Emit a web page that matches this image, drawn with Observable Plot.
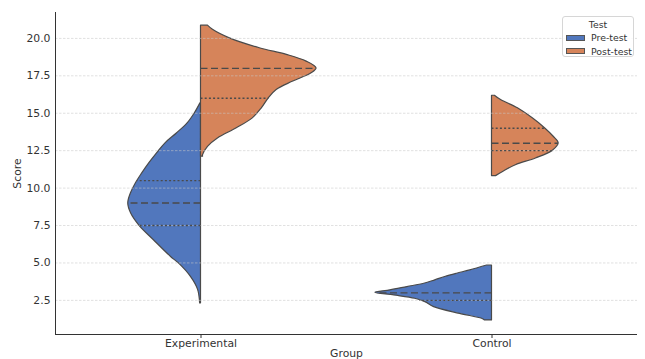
<!DOCTYPE html>
<html><head><meta charset="utf-8">
<script src="https://cdn.jsdelivr.net/npm/d3@7"></script>
<script src="https://cdn.jsdelivr.net/npm/@observablehq/plot@0.6"></script>
<style>
body{margin:0;background:#fff;}
#wrap{position:relative;width:645px;height:359px;font-family:"DejaVu Sans",sans-serif;}
.legend{position:absolute;left:562px;top:16px;width:72px;height:41px;border:1px solid #d6d6d6;border-radius:3px;background:rgba(255,255,255,0.85);font-size:9.4px;color:#333;box-sizing:border-box;}
.legend .t{position:absolute;left:0;width:100%;top:2px;text-align:center;line-height:11px;}
.legend .row{position:absolute;left:3px;height:11px;}
.legend .sw{position:absolute;left:0;top:2.5px;width:19px;height:6px;border:0.8px solid #555;box-sizing:border-box;}
.legend .lb{position:absolute;left:25px;top:0;line-height:11px;white-space:nowrap;}
</style>
</head><body><div id="wrap"></div>
<script>
const groups = ["Experimental", "Control"];
const tests = ["Pre-test", "Post-test"];
const colors = ["#5177bd", "#d6845a"];
const yTicks = [2.5, 5.0, 7.5, 10.0, 12.5, 15.0, 17.5, 20.0];

// Violin profiles: score and half-width (in category units)
const expPreScore = [15.66, 15.0, 14.32, 13.65, 12.99, 12.32, 11.65, 10.98, 10.31, 9.64, 8.97, 8.3, 7.5, 6.5, 5.4, 4.95, 4.05, 3.2, 2.3];
const expPreWidth = [0.002, 0.021, 0.046, 0.083, 0.122, 0.151, 0.178, 0.202, 0.224, 0.241, 0.250, 0.240, 0.212, 0.161, 0.103, 0.075, 0.034, 0.010, 0.003];

const expPostScore = [20.85, 20.57, 20.0, 19.34, 18.9, 18.45, 18.0, 17.67, 17.1, 16.55, 16.0, 15.33, 14.66, 14.0, 13.32, 12.76, 12.2, 12.1];
const expPostWidth = [0.024, 0.041, 0.099, 0.202, 0.295, 0.363, 0.397, 0.380, 0.315, 0.260, 0.233, 0.209, 0.178, 0.123, 0.058, 0.024, 0.007, 0.007];

const ctrlPreScore = [4.83, 4.50, 4.28, 4.06, 3.84, 3.61, 3.39, 3.17, 3.01, 2.83, 2.61, 2.38, 2.05, 1.60, 1.27, 1.16];
const ctrlPreWidth = [0.017, 0.075, 0.120, 0.161, 0.195, 0.233, 0.291, 0.349, 0.401, 0.336, 0.264, 0.229, 0.199, 0.110, 0.034, 0.024];

const ctrlPostScore = [16.17, 15.88, 15.33, 14.66, 14.0, 13.43, 13.0, 12.5, 11.98, 11.53, 11.08, 10.8];
const ctrlPostWidth = [0.010, 0.031, 0.089, 0.140, 0.182, 0.212, 0.229, 0.209, 0.151, 0.082, 0.038, 0.014];

// medians (dashed) and quartiles (dotted)
const medians = [9.0, 18.0, 3.0, 13.0];
const expPreQuart = [7.5, 10.5];
const expPostQuart = [16.0];
const ctrlPreQuart = [2.5];
const ctrlPostQuart = [12.5, 14.0];

const violins = [
  {g: 0, t: 0, score: expPreScore, width: expPreWidth, med: medians[0], q: expPreQuart},
  {g: 0, t: 1, score: expPostScore, width: expPostWidth, med: medians[1], q: expPostQuart},
  {g: 1, t: 0, score: ctrlPreScore, width: ctrlPreWidth, med: medians[2], q: ctrlPreQuart},
  {g: 1, t: 1, score: ctrlPostScore, width: ctrlPostWidth, med: medians[3], q: ctrlPostQuart}
];

const edge = "#4a4a4a";
const marks = [];
const lines = [];
for (const v of violins) {
  const side = v.t === 0 ? -1 : 1;
  const rows = v.score.map((s, i) => ({
    y: s,
    x1: v.t === 0 ? v.g - v.width[i] : v.g,
    x2: v.t === 0 ? v.g : v.g + v.width[i]
  })).sort((a, b) => a.y - b.y);
  marks.push(Plot.areaX(rows, {y: "y", x1: "x1", x2: "x2", fill: colors[v.t], stroke: edge, strokeWidth: 1.2, curve: "catmull-rom"}));
  const idx = v.score.map((s, i) => i).sort((a, b) => v.score[a] - v.score[b]);
  const wAt = d3.scaleLinear().domain(idx.map(i => v.score[i])).range(idx.map(i => v.width[i]));
  const mk = (s, kind) => ({y: s, x1: v.g, x2: v.g + side * wAt(s), kind});
  lines.push(mk(v.med, "med"));
  for (const q of v.q) lines.push(mk(q, "q"));
}

const plot = Plot.plot({
  width: 645,
  height: 359,
  marginLeft: 55,
  marginRight: 8,
  marginTop: 12,
  marginBottom: 25,
  style: {fontFamily: "DejaVu Sans, sans-serif", fontSize: "10.8px", color: "#333", background: "#fff"},
  x: {domain: [-0.5, 1.5]},
  y: {domain: [0.22, 21.73]},
  marks: [
    ...marks,
    Plot.ruleY(yTicks, {x1: -0.5, x2: 1.5, stroke: "#c8c8c8", strokeOpacity: 0.7, strokeWidth: 0.8, strokeDasharray: "2.5,1.5"}),
    Plot.ruleY(lines.filter(d => d.kind === "med"), {y: "y", x1: "x1", x2: "x2", stroke: edge, strokeWidth: 1.4, strokeDasharray: "7,3.5"}),
    Plot.ruleY(lines.filter(d => d.kind === "q"), {y: "y", x1: "x1", x2: "x2", stroke: edge, strokeWidth: 1.4, strokeDasharray: "2,2.2"}),
    Plot.ruleX([-0.5], {y1: 0.22, y2: 21.73, stroke: "#333", strokeWidth: 1}),
    Plot.ruleY([0.22], {x1: -0.5, x2: 1.5, stroke: "#333", strokeWidth: 1}),
    Plot.axisY({ticks: yTicks, tickSize: 0, tickPadding: 5, tickFormat: d3.format(".1f"), label: "Score", labelAnchor: "center", labelArrow: "none", labelOffset: 42}),
    Plot.axisX({ticks: [0, 1], tickSize: 4, tickPadding: 1, tickFormat: d => groups[d], label: "Group", labelAnchor: "center", labelArrow: "none", labelOffset: 22})
  ]
});

const wrap = document.getElementById("wrap");
wrap.appendChild(plot);

const lg = document.createElement("div");
lg.className = "legend";
let html = `<div class="t">Test</div>`;
tests.forEach((t, i) => {
  html += `<div class="row" style="top:${15 + i * 13.5}px"><div class="sw" style="background:${colors[i]}"></div><div class="lb">${t}</div></div>`;
});
lg.innerHTML = html;
wrap.appendChild(lg);
</script>
</body></html>
